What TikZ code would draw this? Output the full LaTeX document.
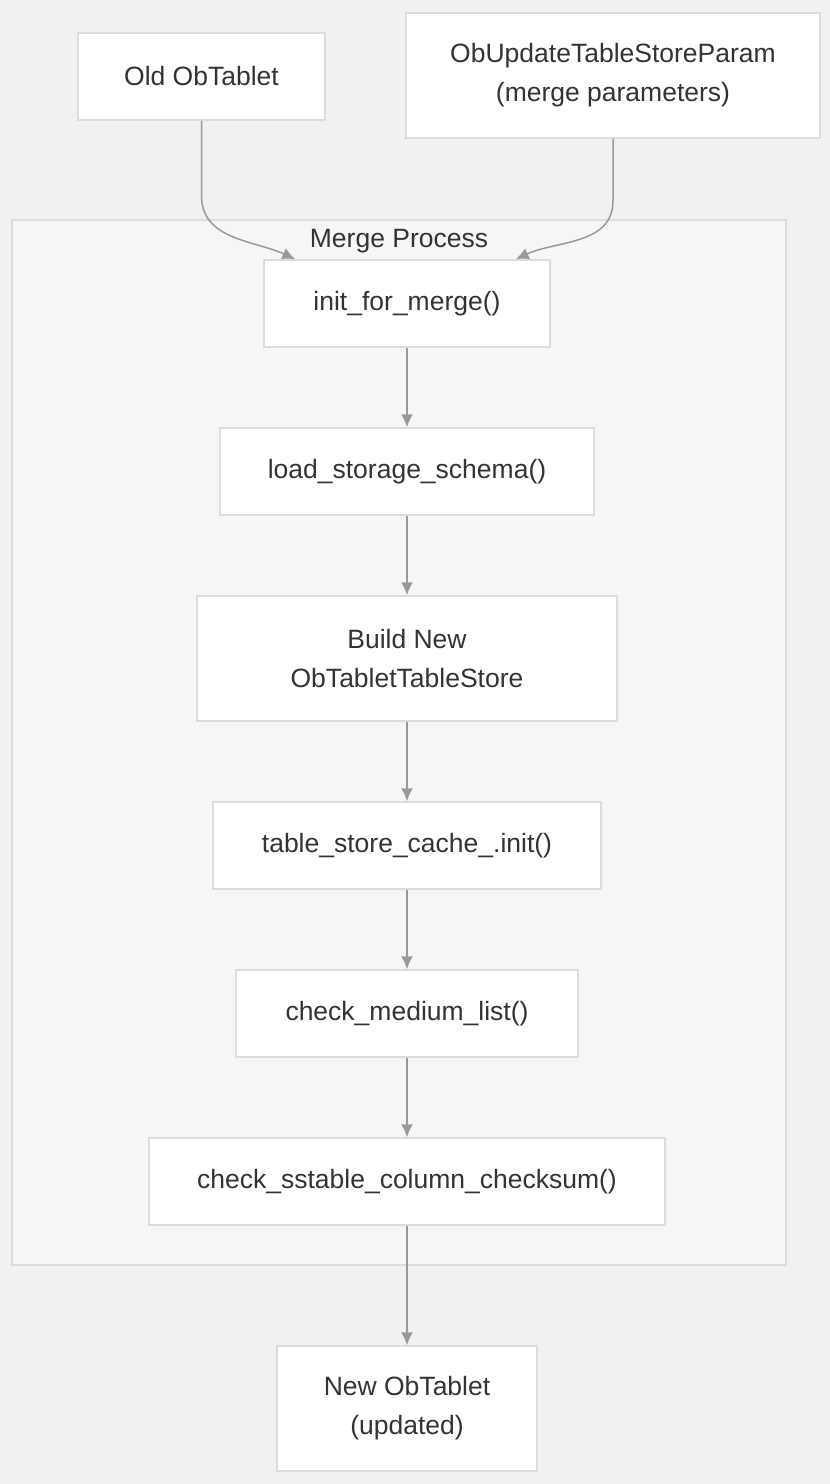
\documentclass[tikz,border=0pt]{standalone}
\usepackage{fontspec}
\setmainfont{Liberation Sans}
\usetikzlibrary{positioning}
\usetikzlibrary{arrows.meta}
\usetikzlibrary{calc}

\definecolor{bggray}{HTML}{F2F1F0}
\definecolor{clustergray}{HTML}{F6F6F6}
\definecolor{linegray}{HTML}{DCDCDC}
\definecolor{arrowgray}{HTML}{999999}
\definecolor{textgray}{HTML}{333333}

\begin{document}
\begin{tikzpicture}[x=1pt, y=-1pt, font=\fontsize{26.5}{39}\selectfont, text=textgray,
		box/.style = {draw = linegray, line width = 1.5pt, fill = white, align = center, inner sep = 0pt},
		flow/.style = {draw = arrowgray, line width = 1.5pt, -{Latex[length = 13pt, width = 12pt]}}]
		\fill [bggray] (0, 0) rectangle (830, 1484);

		% Merge Process cluster
		\draw [clustergray, fill = clustergray] (12, 220) rectangle (786, 1265);
		\draw [linegray, line width = 1.5pt] (12, 220) rectangle (786, 1265);
		\node (merge) at (399, 241) {Merge Process};

		\node (old) [box, minimum width = 247pt, minimum height = 87pt] at (201.5, 76.5) {Old ObTablet};
		\node (param) [box, minimum width = 414pt, minimum height = 125pt] at (613, 75.5) {ObUpdateTableStoreParam\\(merge parameters)};

		\node (init) [box, minimum width = 286pt, minimum height = 87pt] at (407, 303.5) {init\_for\_merge()};
		\node (schema) [box, minimum width = 374pt, minimum height = 87pt] at (407, 471.5) {load\_storage\_schema()};
		\node (build) [box, minimum width = 420pt, minimum height = 125pt] at (407, 658.5) {Build New\\ObTabletTableStore};
		\node (cache) [box, minimum width = 388pt, minimum height = 87pt] at (407, 845.5) {table\_store\_cache\_.init()};
		\node (medium) [box, minimum width = 342pt, minimum height = 87pt] at (407, 1013.5) {check\_medium\_list()};
		\node (checksum) [box, minimum width = 516pt, minimum height = 87pt] at (407, 1181.5) {check\_sstable\_column\_checksum()};

		\node (new) [box, minimum width = 260pt, minimum height = 125pt] at (407, 1408.5) {New ObTablet\\(updated)};

		\draw [flow] (old.south) -- ++(0, 75) to [out = -90, in = 155] ([xshift = 32pt] init.north west);
		\draw [flow] (param.south) -- ++(0, 62) to [out = -90, in = 25] ([xshift = -35pt] init.north east);
		\draw [flow] (init) -- (schema);
		\draw [flow] (schema) -- (build);
		\draw [flow] (build) -- (cache);
		\draw [flow] (cache) -- (medium);
		\draw [flow] (medium) -- (checksum);
		\draw [flow] (checksum) -- (new);
	\end{tikzpicture}
\end{document}
